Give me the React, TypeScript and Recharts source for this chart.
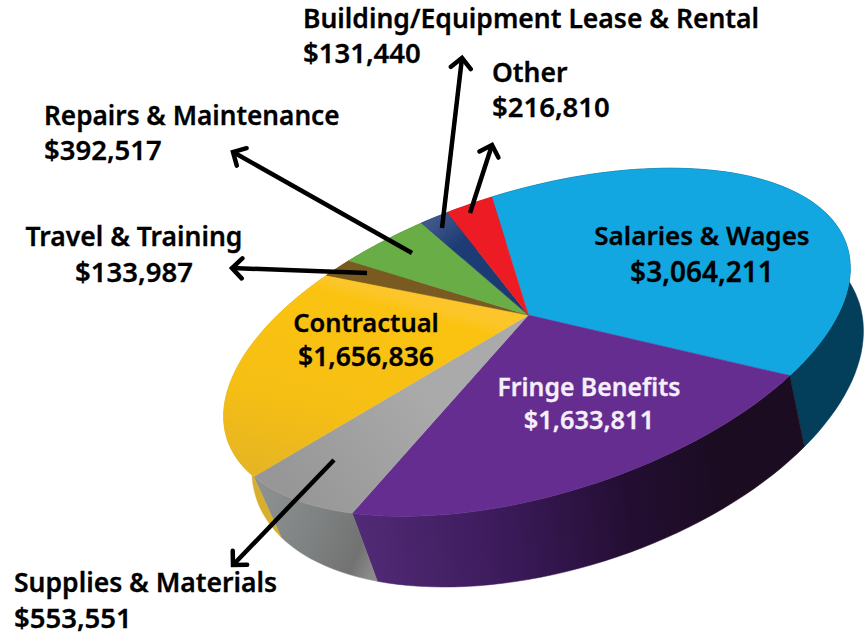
import { PieChart, Pie, Cell } from "recharts";

const categories = [
  "Salaries & Wages",
  "Fringe Benefits",
  "Supplies & Materials",
  "Contractual",
  "Travel & Training",
  "Repairs & Maintenance",
  "Building/Equipment Lease & Rental",
  "Other",
];
const amounts = [3064211, 1633811, 553551, 1656836, 133987, 392517, 131440, 216810];

const topFills = ["#12a7e0", "#662d91", "url(#greyTop)", "url(#goldTop)", "#795a21", "#68ad45", "url(#blueTop)", "#ed1c24"];
const wallFills = ["#033f5a", "url(#purpleWall)", "url(#greyWall)", "#d8ae2e", "#5a4318", "#4b8030", "#16294f", "#a81319"];

const chartData = categories.map((name, i) => ({ name, value: amounts[i] }));

// homography from the unit circle to the tilted disc in the picture
const H = [3.04507, 0.55572, 5.28429, -0.94297, -0.81056, 3.15052, -0.00014, 0.18759];

function project(ux: number, uy: number): [number, number] {
  const w = H[6] * ux + H[7] * uy + 1;
  return [(100 * (H[0] * ux + H[1] * uy + H[2])) / w, (100 * (H[3] * ux + H[4] * uy + H[5])) / w];
}

function arc(start: number, end: number) {
  const pts: [number, number][] = [];
  const steps = Math.max(2, Math.ceil(Math.abs(end - start) / 2));
  for (let i = 0; i <= steps; i++) {
    const a = ((start + ((end - start) * i) / steps) * Math.PI) / 180;
    pts.push(project(Math.cos(a), Math.sin(a)));
  }
  return pts;
}

// bottom rim of the disc: depth shrinks towards the far side
const lower = ([x, y]: [number, number]): [number, number] => [
  x + 33.6 - 0.024 * x,
  y + 3.2 + 0.0384 * x + 0.1 * y,
];

const toPath = (pts: [number, number][]) =>
  "M" + pts.map((p) => `${p[0].toFixed(1)},${p[1].toFixed(1)}`).join("L") + "Z";

const TopSlice = (props: any) => {
  const pts = [project(0, 0), ...arc(props.startAngle, props.endAngle)];
  return <path d={toPath(pts)} fill={props.fill} stroke={props.fill} strokeWidth={0.5} />;
};

const WallSlice = (props: any) => {
  const edge = arc(props.startAngle, props.endAngle);
  return <path d={toPath([...edge, ...edge.map(lower).reverse()])} fill={props.fill} stroke={props.fill} strokeWidth={0.5} />;
};

const arrows = [
  { from: [442, 228], to: [462, 58] },
  { from: [470, 213], to: [492, 145] },
  { from: [412, 253], to: [233, 152] },
  { from: [367, 273], to: [232, 268] },
  { from: [334, 460], to: [233, 565] },
];

const labels = [
  { lines: ["Building/Equipment Lease & Rental", "$131,440"], x: 303, y: 28, gap: 35, anchor: "start", size: 26.5, valueSize: 27.5 },
  { lines: ["Other", "$216,810"], x: 492, y: 82, gap: 35, anchor: "start", size: 26.5, valueSize: 27.5 },
  { lines: ["Repairs & Maintenance", "$392,517"], x: 44, y: 125, gap: 35, anchor: "start", size: 26.2, valueSize: 27.5 },
  { lines: ["Travel & Training", "$133,987"], x: 134, y: 246, gap: 36, anchor: "middle", size: 26.5, valueSize: 27.5 },
  { lines: ["Salaries & Wages", "$3,064,211"], x: 702, y: 245, gap: 37, anchor: "middle", size: 26, valueSize: 28 },
  { lines: ["Contractual", "$1,656,836"], x: 366, y: 332, gap: 34, anchor: "middle", size: 25.5, valueSize: 26.5 },
  { lines: ["Fringe Benefits", "$1,633,811"], x: 589, y: 396, gap: 33, anchor: "middle", size: 24.8, valueSize: 25.4, fill: "#f4eff8" },
  { lines: ["Supplies & Materials", "$553,551"], x: 14, y: 592, gap: 36, anchor: "start", size: 26.5, valueSize: 27.5 },
];

export default function App() {
  return (
    <div style={{ position: "absolute", left: 0, top: 0, width: 865, height: 635 }}>
      <PieChart width={865} height={635} margin={{ top: 0, right: 0, bottom: 0, left: 0 }}>
        <defs>
          <linearGradient id="goldTop" gradientUnits="userSpaceOnUse" x1="320" y1="278" x2="270" y2="475">
            <stop offset="0" stopColor="#fcc62a" />
            <stop offset="0.06" stopColor="#fbc310" />
            <stop offset="0.6" stopColor="#f6bf14" />
            <stop offset="1" stopColor="#e6b522" />
          </linearGradient>
          <linearGradient id="greyTop" gradientUnits="userSpaceOnUse" x1="430" y1="400" x2="300" y2="500">
            <stop offset="0" stopColor="#aaaaaa" />
            <stop offset="1" stopColor="#979797" />
          </linearGradient>
          <linearGradient id="blueTop" gradientUnits="userSpaceOnUse" x1="430" y1="222" x2="510" y2="310">
            <stop offset="0" stopColor="#3f5889" />
            <stop offset="0.3" stopColor="#1d3c76" />
            <stop offset="1" stopColor="#1c3a70" />
          </linearGradient>
          <linearGradient id="purpleWall" gradientUnits="userSpaceOnUse" x1="360" y1="540" x2="720" y2="500">
            <stop offset="0" stopColor="#512a75" />
            <stop offset="0.4" stopColor="#3b1a5a" />
            <stop offset="0.75" stopColor="#230e32" />
            <stop offset="1" stopColor="#1b0c22" />
          </linearGradient>
          <linearGradient id="greyWall" gradientUnits="userSpaceOnUse" x1="260" y1="500" x2="380" y2="550">
            <stop offset="0" stopColor="#8d9090" />
            <stop offset="0.5" stopColor="#7e8181" />
            <stop offset="0.85" stopColor="#727272" />
            <stop offset="1" stopColor="#8a8a8a" />
          </linearGradient>
        </defs>
        <Pie
          data={chartData}
          dataKey="value"
          nameKey="name"
          cx={528}
          cy={316}
          outerRadius={300}
          startAngle={90}
          endAngle={-270}
          stroke="none"
          isAnimationActive={false}
          shape={WallSlice}
          inactiveShape={WallSlice}
          activeShape={WallSlice}
        >
          {wallFills.map((c, i) => (
            <Cell key={i} fill={c} />
          ))}
        </Pie>
        <Pie
          data={chartData}
          dataKey="value"
          nameKey="name"
          cx={528}
          cy={316}
          outerRadius={300}
          startAngle={90}
          endAngle={-270}
          stroke="none"
          isAnimationActive={false}
          shape={TopSlice}
          inactiveShape={TopSlice}
          activeShape={TopSlice}
        >
          {topFills.map((c, i) => (
            <Cell key={i} fill={c} />
          ))}
        </Pie>
      </PieChart>
      {/* arrows and labels sit above the pie layer */}
      <svg width={865} height={635} style={{ position: "absolute", left: 0, top: 0 }}>
        <defs>
          <marker id="chevron" markerUnits="userSpaceOnUse" markerWidth="26" markerHeight="26" refX="13" refY="13" orient="auto">
            <path d="M3,3 L13,13 L3,23" fill="none" stroke="#000" strokeWidth={4.5} strokeLinecap="round" />
          </marker>
        </defs>
        {arrows.map((a, i) => (
          <line key={i} x1={a.from[0]} y1={a.from[1]} x2={a.to[0]} y2={a.to[1]} stroke="#000" strokeWidth={4.5} markerEnd="url(#chevron)" />
        ))}
        {labels.map((l) => {
          const color = l.fill ?? "#000";
          return (
            <text key={l.lines[0]} textAnchor={l.anchor as any} fontFamily="'Noto Sans', sans-serif" fontWeight={600} fill={color} stroke={color} strokeWidth={0.3}>
              <tspan x={l.x} y={l.y} fontSize={l.size}>{l.lines[0]}</tspan>
              <tspan x={l.x} y={l.y + l.gap} fontSize={l.valueSize}>{l.lines[1]}</tspan>
            </text>
          );
        })}
      </svg>
    </div>
  );
}
